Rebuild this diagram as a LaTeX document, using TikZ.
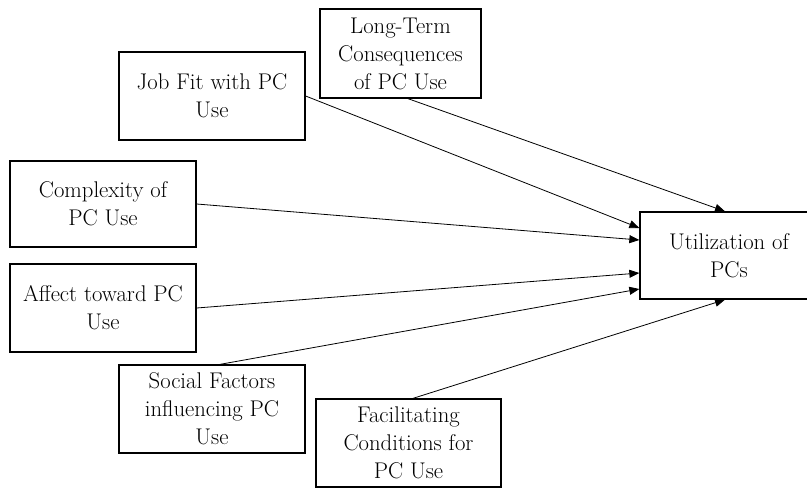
\documentclass[tikz,border=0pt]{standalone}
\usepackage{fontspec}
\usetikzlibrary{arrows.meta}
\tikzset{
  factor/.style={draw, line width=1.3pt, align=center, inner sep=0pt,
    font=\fontsize{22.7}{28}\selectfont},
  link/.style={line width=0.8pt, -{Triangle[length=10pt,width=8pt]}}
}
\begin{document}
\begin{tikzpicture}[x=1pt,y=-1pt]
\clip (0,0) rectangle (807,488);
\fill[white] (0,0) rectangle (807,488);
% input factors (corner to corner)
\node[factor, minimum width=161pt, minimum height=89pt] (lt)  at (400.5,53.5) {Long-Term\\Consequences\\of PC Use};
\node[factor, minimum width=186pt, minimum height=88pt] (job) at (212,96)    {Job Fit with PC\\Use};
\node[factor, minimum width=186pt, minimum height=86pt] (cx)  at (103,204)   {Complexity of\\PC Use};
\node[factor, minimum width=186pt, minimum height=88pt] (aff) at (103,308)   {Affect toward PC\\Use};
\node[factor, minimum width=186pt, minimum height=88pt] (soc) at (212,409)   {Social Factors\\influencing PC\\Use};
\node[factor, minimum width=185pt, minimum height=88pt] (fac) at (408.5,443) {Facilitating\\Conditions for\\PC Use};
% outcome
\node[factor, minimum width=178pt, minimum height=87pt] (use) at (729,255.5) {Utilization of\\PCs};
% paths
\draw[link] ([xshift=7.5pt]lt.south) -- ([xshift=-4pt]use.north);
\draw[link] (job.east) -- ([yshift=27.5pt]use.west);
\draw[link] (cx.east)  -- ([yshift=15.5pt]use.west);
\draw[link] (aff.east) -- ([yshift=-17.5pt]use.west);
\draw[link] ([xshift=8pt]soc.north) -- ([yshift=-33.5pt]use.west);
\draw[link] ([xshift=4.5pt]fac.north) -- ([xshift=-4pt]use.south);
\end{tikzpicture}
\end{document}
